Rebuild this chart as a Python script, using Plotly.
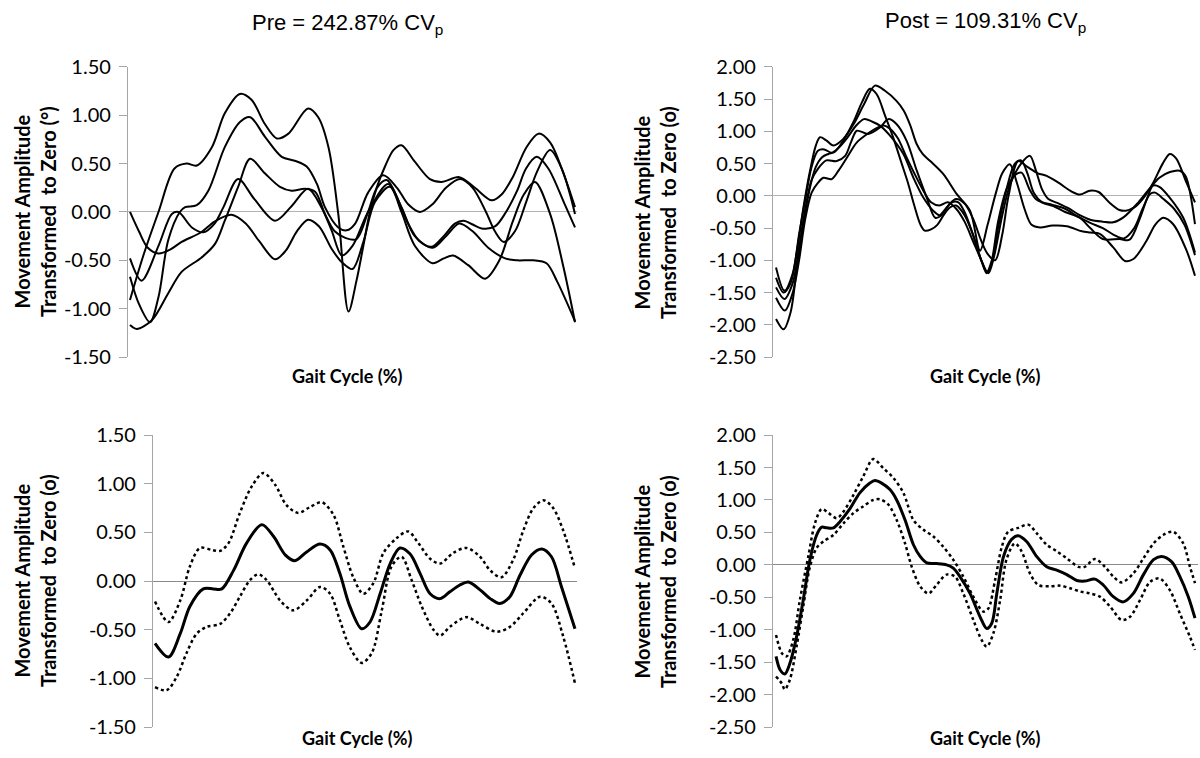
import plotly.graph_objects as go

# ---------------- DATA (gait cycle %, movement amplitude) ----------------
# Pre: individual trials
pre_a_x = [0, 3, 6.4, 10, 12.7, 15, 18.4, 21.3, 24.7, 27.3, 30.3, 33, 35.6, 40, 42.3, 44.6, 46.8, 49.1, 50.9, 52.4, 54, 55.5, 57.3, 59.2, 61, 64, 67.4, 70, 74, 77.5, 81.3, 83.5, 86, 89.1, 91.8, 94.4, 97.4, 100]
pre_a_y = [-0.91, -0.45, 0.0, 0.45, 0.50, 0.48, 0.67, 1.02, 1.22, 1.16, 0.91, 0.76, 0.81, 1.07, 0.98, 0.67, -0.02, -1.03, -0.71, -0.36, 0.02, 0.26, 0.47, 0.64, 0.69, 0.52, 0.34, 0.31, 0.36, 0.25, 0.12, 0.18, 0.36, 0.67, 0.81, 0.72, 0.40, 0.05]

pre_b_x = [0, 2, 4.5, 6.4, 8.6, 11.2, 12.4, 15, 17.6, 21.3, 24.7, 27, 30.3, 34.1, 37, 39.7, 42, 43.8, 46.8, 48.7, 50.6, 53.5, 56.9, 60, 62.5, 65.2, 68, 71, 74.2, 77, 80, 82, 84, 86.5, 89, 91.5, 94.4, 97, 100]
pre_b_y = [-0.67, -0.95, -1.14, -0.88, -0.29, 0.0, 0.05, 0.07, 0.22, 0.67, 0.93, 0.98, 0.78, 0.57, 0.53, 0.47, 0.29, 0.05, -0.16, -0.19, -0.12, 0.2, 0.38, 0.25, 0.08, 0.0, 0.08, 0.25, 0.34, 0.25, 0.0, -0.2, -0.31, -0.2, 0.1, 0.42, 0.64, 0.45, -0.02]

pre_c_x = [0, 1.5, 4.9, 8.6, 11.6, 16.1, 19.1, 21.3, 24.3, 27, 30.3, 33.7, 36.3, 39.3, 41.6, 43.8, 46, 48.5, 50.9, 53.5, 55.5, 57.7, 60, 62.5, 65, 67.8, 70.5, 73, 75, 77, 79, 82, 84.5, 87, 89, 91.4, 94, 97.5, 100]
pre_c_y = [-1.17, -1.21, -1.12, -0.84, -0.62, -0.47, -0.33, -0.09, 0.26, 0.55, 0.40, 0.26, 0.22, 0.24, 0.21, -0.02, -0.2, -0.27, -0.28, 0.0, 0.25, 0.33, 0.15, -0.12, -0.3, -0.36, -0.25, -0.12, -0.09, -0.13, -0.17, -0.15, 0.0, 0.22, 0.45, 0.57, 0.45, 0.1, -0.16]

pre_d_x = [0, 2.6, 6.4, 9.4, 10.9, 13.9, 16.5, 19, 21, 24.3, 28, 32.6, 36.3, 40, 43, 45.3, 47.6, 50, 53.5, 58, 61, 64, 68, 71, 74, 77, 80.5, 84.3, 87, 90.6, 93.6, 96, 100]
pre_d_y = [-0.48, -0.71, -0.35, -0.02, 0.0, -0.16, -0.21, -0.12, 0.05, 0.34, 0.13, -0.09, 0.06, 0.24, 0.05, -0.19, -0.45, -0.35, 0.0, 0.29, 0.05, -0.25, -0.37, -0.25, -0.12, -0.2, -0.37, -0.48, -0.5, -0.5, -0.53, -0.72, -1.13]

pre_e_x = [0, 2, 4, 6.4, 9, 11.6, 16, 19, 22.8, 26, 29, 32.6, 35, 37.5, 40, 42.5, 45.3, 47.6, 50, 52.5, 55, 58.4, 61, 64, 68, 70.5, 72.6, 76, 79.8, 83, 86, 88.5, 91, 94.4, 97.4, 100]
pre_e_y = [0.0, -0.2, -0.37, -0.43, -0.39, -0.31, -0.21, -0.1, -0.03, -0.12, -0.3, -0.49, -0.4, -0.2, -0.08, -0.15, -0.38, -0.52, -0.59, -0.3, 0.1, 0.26, 0.0, -0.35, -0.53, -0.48, -0.45, -0.55, -0.69, -0.5, -0.1, 0.18, 0.31, -0.02, -0.57, -1.14]

# Post: individual trials
post_a_x = [0, 1.8, 3.5, 5, 6.5, 8, 9.5, 10.5, 12, 13.7, 16, 18.5, 21, 23.6, 26, 28.8, 30.5, 32, 33.6, 35, 36.8, 39.9, 43.1, 46.3, 48.7, 50.5, 52.5, 54, 55.8, 57.5, 59.3, 61, 63, 66, 69.4, 73, 75, 77.3, 80.5, 83.3, 85.3, 88.4, 90.5, 92.4, 94.8, 98, 100]
post_a_y = [-1.27, -1.5, -1.35, -0.85, -0.2, 0.35, 0.78, 0.91, 0.86, 0.78, 0.88, 1.11, 1.42, 1.71, 1.63, 1.47, 1.32, 1.1, 0.8, 0.65, 0.54, 0.34, 0.03, -0.23, -0.85, -0.45, 0.05, 0.35, 0.49, 0.2, -0.2, -0.45, -0.49, -0.46, -0.47, -0.55, -0.57, -0.59, -0.8, -1.01, -0.98, -0.7, -0.45, -0.34, -0.44, -0.85, -1.24]

post_b_x = [0, 1.8, 3.5, 5, 6.5, 8, 9.5, 11, 12.5, 14, 16, 18.5, 20.5, 22.4, 24, 26, 28, 30, 31.5, 33, 34.5, 35.5, 37, 38.5, 40, 41.5, 43, 45, 47, 49, 50.3, 51.5, 53, 55, 57, 58.5, 60, 61.5, 63.5, 66.2, 69, 72.5, 75, 78, 82, 84.4, 86.9, 88.5, 90, 91.5, 94, 97.2, 100]
post_b_y = [-1.91, -2.07, -1.8, -1.1, -0.45, 0.1, 0.45, 0.6, 0.65, 0.68, 0.85, 1.15, 1.45, 1.66, 1.58, 1.25, 0.9, 0.5, 0.2, -0.15, -0.45, -0.54, -0.52, -0.45, -0.3, -0.18, -0.15, -0.3, -0.6, -1.0, -1.2, -1.05, -0.5, 0.1, 0.5, 0.55, 0.35, 0.05, -0.1, -0.16, -0.25, -0.34, -0.5, -0.67, -0.67, -0.68, -0.34, -0.05, 0.16, 0.14, -0.03, -0.34, -0.88]

post_c_x = [0, 2, 4, 5.5, 7, 8.5, 10, 11.5, 13.3, 15, 17, 19, 21, 23, 24.8, 27, 30.4, 32.8, 35.2, 37.5, 39, 40.5, 42, 43.5, 45, 47, 49, 50.7, 52, 54, 56, 58.5, 60.6, 62, 63.5, 65, 67.5, 70, 72.5, 75, 78, 80.5, 83, 86.5, 89, 91.5, 94, 96.4, 97.8, 100]
post_c_y = [-1.11, -1.47, -1.2, -0.6, -0.05, 0.45, 0.7, 0.72, 0.67, 0.75, 0.9, 1.08, 1.19, 1.15, 1.09, 0.95, 0.65, 0.28, -0.03, -0.23, -0.3, -0.2, -0.1, -0.1, -0.25, -0.6, -1.0, -1.2, -0.95, -0.3, 0.2, 0.5, 0.62, 0.4, 0.1, -0.05, -0.12, -0.2, -0.3, -0.37, -0.4, -0.41, -0.33, -0.1, 0.1, 0.28, 0.37, 0.39, 0.3, -0.44]

post_d_x = [0, 2, 4, 5.5, 7, 8.5, 10, 12, 14.5, 16.5, 18, 19.3, 22, 24.8, 26.8, 28.8, 31.2, 33.6, 36, 38, 39.5, 41.5, 43, 45, 47, 49, 50.5, 52.3, 54, 55.5, 57.8, 60, 62.5, 64.6, 67.5, 70.2, 72.5, 74.9, 77, 79.5, 82, 83.5, 85.5, 87.5, 90, 92.3, 94, 95.5, 98, 100]
post_d_y = [-1.42, -1.6, -1.35, -0.8, -0.2, 0.25, 0.42, 0.55, 0.54, 0.62, 0.85, 1.01, 0.96, 1.06, 1.19, 1.11, 0.85, 0.39, -0.03, -0.34, -0.3, -0.12, -0.05, -0.12, -0.35, -0.7, -0.9, -1.0, -0.6, 0.0, 0.54, 0.45, 0.35, 0.31, 0.2, 0.08, 0.02, 0.08, 0.06, -0.1, -0.22, -0.23, -0.18, -0.05, 0.2, 0.5, 0.65, 0.58, 0.2, -0.1]

post_e_x = [0, 2.1, 4, 5.5, 7, 8.5, 10, 11.3, 13.3, 15, 16.9, 19.3, 22, 24, 25.6, 27, 29, 31, 33, 35, 37, 39, 41, 43, 45, 47, 49, 50.3, 51.5, 53, 55, 57, 58.6, 60.5, 62, 63.5, 66, 69, 72, 75, 78, 80.5, 83, 85.5, 87.5, 89.3, 90.5, 92.5, 95, 97.5, 100]
post_e_y = [-1.58, -1.78, -1.5, -1.0, -0.35, 0.05, 0.2, 0.28, 0.26, 0.4, 0.59, 0.83, 0.97, 1.05, 1.09, 1.05, 0.9, 0.62, 0.35, 0.1, -0.1, -0.15, -0.1, -0.2, -0.4, -0.7, -1.0, -1.18, -1.0, -0.4, 0.1, 0.32, 0.36, 0.1, -0.05, -0.1, -0.14, -0.2, -0.32, -0.42, -0.5, -0.6, -0.66, -0.5, -0.2, 0.03, 0.05, -0.05, -0.2, -0.45, -0.92]

# Pre: mean and +/- SD
pre_mean_x = [0, 3.2, 6, 8.3, 11.5, 13.9, 15.9, 18.7, 21.8, 25.4, 28.2, 31, 33.3, 36.1, 39.3, 41.7, 44, 46.4, 49.2, 51.2, 53.6, 56, 58.3, 60.7, 63.1, 65.5, 67.9, 70.2, 72.6, 74.6, 77.4, 79.8, 82.1, 84.5, 86.9, 89.7, 92.1, 94.4, 96.8, 100]
pre_mean_y = [-0.64, -0.78, -0.54, -0.26, -0.08, -0.08, -0.08, 0.11, 0.39, 0.58, 0.46, 0.27, 0.21, 0.30, 0.38, 0.32, 0.08, -0.26, -0.49, -0.42, -0.13, 0.18, 0.34, 0.28, 0.08, -0.13, -0.18, -0.11, -0.04, -0.01, -0.09, -0.18, -0.23, -0.16, 0.06, 0.27, 0.33, 0.25, -0.06, -0.49]
pre_up_x = [0, 3.2, 6, 8.3, 10.7, 13.5, 15.5, 17.5, 20.2, 23, 25.8, 28.6, 31.3, 34.1, 36.9, 39.7, 42.5, 44.8, 47.2, 49.6, 52, 54.4, 57.5, 60.3, 62.7, 65.5, 67.9, 71, 74.2, 77.4, 79.8, 82.5, 85.3, 87.7, 90.1, 92.5, 94.8, 97.2, 100]
pre_up_y = [-0.21, -0.42, -0.2, 0.15, 0.34, 0.32, 0.31, 0.39, 0.70, 0.97, 1.11, 0.99, 0.78, 0.70, 0.76, 0.81, 0.68, 0.36, 0.04, -0.13, -0.02, 0.29, 0.44, 0.51, 0.39, 0.23, 0.18, 0.29, 0.34, 0.25, 0.11, 0.04, 0.22, 0.52, 0.75, 0.83, 0.75, 0.52, 0.13]
pre_lo_x = [0, 2.8, 5.2, 7.5, 9.9, 12.3, 15.5, 17.9, 20.2, 22.6, 24.6, 26.6, 29.8, 32.9, 36.1, 39.3, 41.7, 44, 46.4, 49.2, 51.6, 54, 56.3, 58.7, 61.1, 63.5, 66.3, 67.9, 70.2, 74.2, 77.4, 81.3, 84.5, 87.7, 91.7, 94.4, 97.2, 100]
pre_lo_y = [-1.09, -1.12, -0.98, -0.74, -0.54, -0.47, -0.44, -0.33, -0.16, 0.01, 0.07, 0.01, -0.2, -0.3, -0.2, -0.06, -0.13, -0.4, -0.68, -0.84, -0.74, -0.3, 0.15, 0.25, 0.01, -0.26, -0.5, -0.56, -0.47, -0.37, -0.44, -0.52, -0.47, -0.33, -0.16, -0.23, -0.57, -1.05]

# Post: mean and +/- SD
post_mean_x = [0, 1, 2.1, 3.3, 4.9, 6.5, 8.1, 9.7, 10.9, 12.1, 13.7, 15.3, 17.7, 20, 22.4, 23.6, 25.2, 27.2, 28.8, 30.8, 32.8, 34.4, 36, 38.3, 40.7, 42.3, 43.9, 46.3, 48.7, 50.3, 51.5, 52.7, 54.3, 56.2, 57.8, 59.8, 62.2, 64.6, 67, 69.4, 71.8, 73.7, 76.1, 78.1, 80.5, 82.9, 85.3, 87.7, 90.1, 92, 94.4, 96.4, 98.4, 100]
post_mean_y = [-1.41, -1.62, -1.68, -1.52, -1.11, -0.54, 0.08, 0.46, 0.58, 0.57, 0.57, 0.67, 0.87, 1.11, 1.26, 1.30, 1.26, 1.16, 1.00, 0.69, 0.31, 0.13, 0.03, 0.02, 0.0, -0.05, -0.18, -0.44, -0.80, -0.98, -0.9, -0.44, 0.13, 0.39, 0.45, 0.36, 0.13, -0.03, -0.08, -0.15, -0.24, -0.25, -0.22, -0.31, -0.49, -0.57, -0.44, -0.15, 0.08, 0.13, 0.05, -0.18, -0.49, -0.82]
post_up_x = [0, 1.4, 2.5, 4.1, 5.7, 7.7, 9.3, 10.9, 12.5, 14.5, 16.1, 18.5, 20.8, 23.2, 25.6, 28, 30.4, 32.8, 35.2, 37.5, 39.9, 42.3, 44.7, 47.1, 49.5, 50.7, 52.3, 53.9, 55.4, 57.8, 60.2, 62.2, 64.6, 67, 69.4, 72.2, 73.7, 76.1, 78.5, 80.5, 82.5, 85.3, 87.7, 90.1, 92.4, 94.8, 97.2, 98.8, 100]
post_up_y = [-1.08, -1.36, -1.41, -1.16, -0.54, 0.13, 0.64, 0.86, 0.80, 0.72, 0.82, 1.08, 1.36, 1.63, 1.49, 1.34, 1.11, 0.69, 0.54, 0.44, 0.28, 0.08, -0.18, -0.49, -0.72, -0.67, -0.23, 0.28, 0.51, 0.57, 0.62, 0.49, 0.31, 0.21, 0.10, -0.03, -0.03, 0.09, -0.03, -0.18, -0.27, -0.13, 0.1, 0.33, 0.46, 0.51, 0.33, -0.03, -0.28]
post_lo_x = [0, 1.4, 2.1, 3.3, 4.9, 6.5, 8.1, 9.7, 11.3, 13.7, 16.1, 18.5, 20.8, 23.2, 24.8, 26.8, 28.8, 30.8, 32.4, 34.4, 36.4, 38.3, 40.7, 42.7, 44.7, 47.1, 49.1, 50.3, 51.9, 53.5, 55, 57, 58.6, 60.6, 62.6, 65.4, 67.8, 70.2, 72.6, 74.9, 77.3, 79.7, 82.5, 84.5, 86.9, 89.3, 91.6, 94, 96.4, 98.8, 100]
post_lo_y = [-1.72, -1.83, -1.92, -1.77, -1.26, -0.64, -0.03, 0.26, 0.36, 0.46, 0.64, 0.80, 0.90, 1.0, 1.01, 0.93, 0.69, 0.33, -0.03, -0.33, -0.44, -0.31, -0.15, -0.18, -0.44, -0.85, -1.16, -1.26, -1.05, -0.54, 0.08, 0.33, 0.21, -0.13, -0.31, -0.33, -0.32, -0.36, -0.41, -0.44, -0.49, -0.64, -0.85, -0.80, -0.54, -0.26, -0.21, -0.39, -0.75, -1.11, -1.31]

y_ticks_pre = [1.5, 1.0, 0.5, 0.0, -0.5, -1.0, -1.5]
y_ticks_post = [2.0, 1.5, 1.0, 0.5, 0.0, -0.5, -1.0, -1.5, -2.0, -2.5]

title_pre = "Pre = 242.87% CV<sub>p</sub>"
title_post = "Post = 109.31% CV<sub>p</sub>"
ytitle_deg = "Movement Amplitude<br>Transformed  to Zero (°)"
ytitle_o = "Movement Amplitude<br>Transformed  to Zero (o)"
xtitle = "Gait Cycle (%)"

# ---------------- FIGURE ----------------
W, H = 1200, 758
# vertical placement correction measured from earlier renders
VS, VO = 0.968, 13.1

fig = go.Figure()

def px_x(p):
    return p / W

def px_y(p):
    page = (p - VO) / VS
    return 1 - page / H

panels = {
    "tl": ("x", "y", 128, 577, 67, 357, [-1.5, 1.5], y_ticks_pre, [-0.45, 100.45]),
    "tr": ("x2", "y2", 773, 1198, 67, 357, [-2.5, 2.0], y_ticks_post, [-0.72, 100.72]),
    "bl": ("x3", "y3", 153, 577, 435, 727, [-1.5, 1.5], y_ticks_pre, [-0.48, 100.48]),
    "br": ("x4", "y4", 773, 1198, 435, 727, [-2.5, 2.0], y_ticks_post, [-0.72, 100.72]),
}

def add_line(panel, xs, ys, width=2, dash="solid"):
    xa, ya = panels[panel][0], panels[panel][1]
    fig.add_trace(go.Scatter(
        x=xs, y=ys, mode="lines", xaxis=xa, yaxis=ya,
        line=dict(color="black", width=width, dash=dash, shape="spline", smoothing=0.9),
        showlegend=False, hoverinfo="skip"))

for xs, ys in [(pre_a_x, pre_a_y), (pre_b_x, pre_b_y), (pre_c_x, pre_c_y),
               (pre_d_x, pre_d_y), (pre_e_x, pre_e_y)]:
    add_line("tl", xs, ys, 2)
for xs, ys in [(post_a_x, post_a_y), (post_b_x, post_b_y), (post_c_x, post_c_y),
               (post_d_x, post_d_y), (post_e_x, post_e_y)]:
    add_line("tr", xs, ys, 2)

add_line("bl", pre_up_x, pre_up_y, 2.5, "dot")
add_line("bl", pre_lo_x, pre_lo_y, 2.5, "dot")
add_line("bl", pre_mean_x, pre_mean_y, 3)
add_line("br", post_up_x, post_up_y, 2.5, "dot")
add_line("br", post_lo_x, post_lo_y, 2.5, "dot")
add_line("br", post_mean_x, post_mean_y, 3)

tick_font = dict(family="Lato, Open Sans, sans-serif", size=20, color="black")
layout = dict(
    width=W, height=H, margin=dict(l=0, r=0, t=0, b=0),
    paper_bgcolor="white", plot_bgcolor="white", showlegend=False,
)
for key, (xa, ya, l, r, t, b, yr, yt, xr) in panels.items():
    xname = "xaxis" + xa[1:]
    yname = "yaxis" + ya[1:]
    zc = "#b3b3b3" if key in ("tl", "tr") else "#8a8a8a"
    layout[xname] = dict(domain=[px_x(l), px_x(r)], range=xr, visible=False,
                         anchor=ya, fixedrange=True)
    layout[yname] = dict(domain=[px_y(b), px_y(t)], range=yr, anchor=xa,
                         tickvals=yt, ticktext=["%.2f" % v for v in yt],
                         showline=True, linecolor="#a6a6a6", linewidth=1.3,
                         ticks="outside", ticklen=8, tickcolor="#a6a6a6", tickwidth=1.3,
                         showgrid=False, zeroline=True, zerolinecolor=zc, zerolinewidth=1.3,
                         tickfont=tick_font, ticklabelstandoff=4, fixedrange=True)
fig.update_layout(**layout)

ann = []
title_font = dict(family="Liberation Sans, Arial, sans-serif", size=22, color="black")
ann.append(dict(text=title_pre, x=px_x(347), y=px_y(24), xref="paper", yref="paper",
                showarrow=False, font=title_font, xanchor="center", yanchor="middle"))
ann.append(dict(text=title_post, x=px_x(985), y=px_y(22), xref="paper", yref="paper",
                showarrow=False, font=title_font, xanchor="center", yanchor="middle"))

ylab_font = dict(family="Lato, Open Sans, sans-serif", size=20, color="black")
xlab_font = dict(family="Lato, Open Sans, sans-serif", size=18, color="black")
for (xc, yc, txt) in [(35, 212, ytitle_deg), (655, 212, ytitle_o),
                      (35, 581, ytitle_o), (655, 581, ytitle_o)]:
    ann.append(dict(text="<b>" + txt + "</b>", x=px_x(xc), y=px_y(yc), xref="paper", yref="paper",
                    showarrow=False, font=ylab_font, textangle=-90,
                    xanchor="center", yanchor="middle"))
for (xc, yc) in [(347, 376), (985, 376), (357, 738), (985, 738)]:
    ann.append(dict(text="<b>" + xtitle + "</b>", x=px_x(xc), y=px_y(yc), xref="paper", yref="paper",
                    showarrow=False, font=xlab_font, xanchor="center", yanchor="middle"))
fig.update_layout(annotations=ann)

post_js = ("document.body.style.margin='0';document.body.style.padding='0';"
           "document.body.style.overflow='hidden';"
           "var gd=document.getElementById('{plot_id}');"
           "gd.style.position='absolute';gd.style.left='0px';gd.style.top='0px';")
fig.write_html("out.html", post_script=post_js, config={"displayModeBar": False})
